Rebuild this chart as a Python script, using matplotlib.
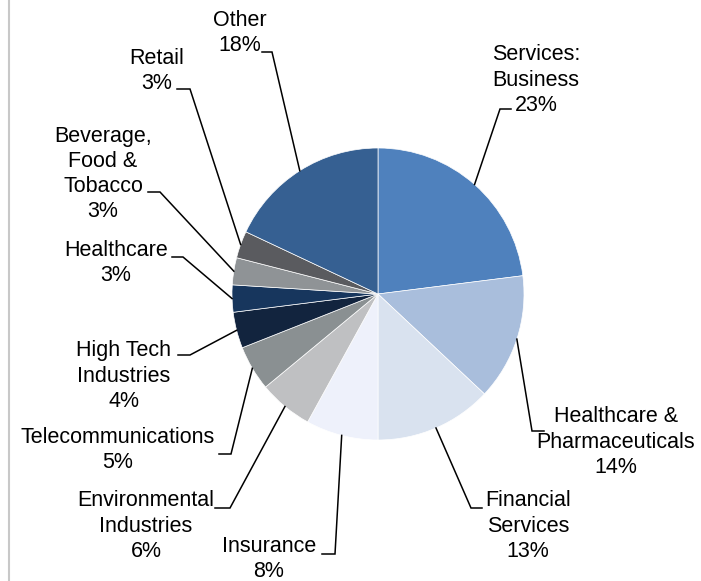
import numpy as np
import matplotlib
matplotlib.use("Agg")
import matplotlib.pyplot as plt

plt.rcParams['font.family'] = ['Liberation Sans', 'DejaVu Sans']

# Sector shares (%), clockwise from 12 o'clock
categories = ["Services:\nBusiness", "Healthcare &\nPharmaceuticals", "Financial\nServices",
              "Insurance", "Environmental\nIndustries", "Telecommunications",
              "High Tech\nIndustries", "Healthcare", "Beverage,\nFood &\nTobacco",
              "Retail", "Other"]
values = [23, 14, 13, 8, 6, 5, 4, 3, 3, 3, 18]
colors = ["#4F81BD", "#A9BEDC", "#D9E2EF", "#EEF1FB", "#BFC0C2", "#8A9092",
          "#12243E", "#17365D", "#8F9396", "#5A5B5F", "#366092"]

W, H = 701, 581
fig = plt.figure(figsize=(W / 100, H / 100), dpi=100)
ax = fig.add_axes([0, 0, 1, 1])

center = (378, 294)
radius = 146
wedges, _ = ax.pie(values, colors=colors, startangle=-90, counterclock=True,
                   center=center, radius=radius,
                   wedgeprops=dict(edgecolor="white", linewidth=0.5))

ax.set_xlim(0, W)
ax.set_ylim(H, 0)
ax.set_aspect("equal")
ax.axis("off")

# label block centre, leader start (at text) and elbow, in pixel layout coords
layout = [
    ((536, 79), (511, 109), (500, 109)),
    ((616, 441), (544, 431), (532, 431)),
    ((528, 525), (482, 508), (471, 508)),
    ((269, 558), (322, 554), (335, 554)),
    ((146, 525), (215, 508), (230, 508)),
    ((118, 449), (219, 454), (231, 454)),
    ((124, 375), (178, 355), (190, 355)),
    ((116, 262), (172, 257), (183, 257)),
    ((103, 173), (148, 192), (160, 192)),
    ((157, 70), (177, 89), (190, 89)),
    ((240, 32), (262, 52), (272, 52)),
]

for w, name, val, (tpos, p0, p1) in zip(wedges, categories, values, layout):
    mid = np.deg2rad((w.theta1 + w.theta2) / 2)
    px = center[0] + radius * np.cos(mid)
    py = center[1] + radius * np.sin(mid)
    ax.plot([p0[0], p1[0], px], [p0[1], p1[1], py], color="black",
            lw=1.1, solid_joinstyle="miter", zorder=1)
    ax.text(tpos[0], tpos[1] + 1, f"{name}\n{val}%", ha="center", va="center",
            multialignment="center", fontsize=15.5, linespacing=1.26, color="black")

# thin grey rule along the left edge
ax.plot([9, 9], [0, H], color="#C8C8C8", lw=1.5, clip_on=False)

fig.savefig("out.png", dpi=100)
